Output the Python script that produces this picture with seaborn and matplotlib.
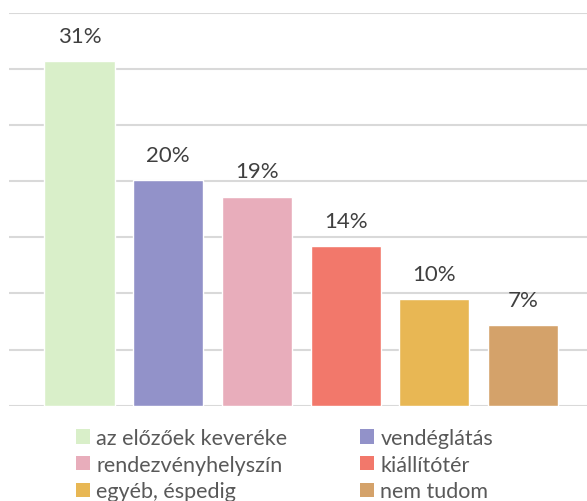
import seaborn as sns
import matplotlib.pyplot as plt
from matplotlib.patches import Patch
import pandas as pd

categories = ["az előzőek keveréke", "vendéglátás", "rendezvényhelyszín",
              "kiállítótér", "egyéb, éspedig", "nem tudom"]
values = [30.7, 20.1, 18.6, 14.2, 9.5, 7.2]
labels = ["31%", "20%", "19%", "14%", "10%", "7%"]
colors = ["#D9EFC9", "#9292C9", "#E8ADBB", "#F2786B", "#E8B754", "#D4A26A"]

sns.set_theme(style="white")
plt.rcParams['font.family'] = ['Lato', 'DejaVu Sans']

df = pd.DataFrame({"cat": categories, "val": values})

fig = plt.figure(figsize=(5.87, 5.02), dpi=100)
ax = fig.add_axes([9 / 587, (502 - 406.7) / 502, 1 - 9 / 587, (406.7 - 13.5) / 502])

sns.barplot(data=df, x="cat", y="val", hue="cat", palette=colors, width=0.79,
            dodge=False, legend=False, ax=ax, saturation=1)

ax.set_ylim(0, 35)
ax.set_yticks(range(0, 36, 5))
ax.set_xlim(-0.795, 5.72)
ax.yaxis.grid(True, color="#D9D9D9", linewidth=1.5)
ax.set_axisbelow(True)
for s in ax.spines.values():
    s.set_visible(False)
ax.axhline(0, color="#D0D0D0", linewidth=2, zorder=0.5)
ax.set_xticks([])
ax.set_yticklabels([])
ax.tick_params(left=False, bottom=False)
ax.set_xlabel("")
ax.set_ylabel("")

for i, (v, lab) in enumerate(zip(values, labels)):
    ax.annotate(lab, (i, v), xytext=(0, 11), textcoords="offset points",
                ha="center", va="bottom", fontsize=16, color="#404040")

handles = [Patch(facecolor=c, edgecolor="none") for c in colors]
order = [0, 2, 4, 1, 3, 5]
fig.legend([handles[i] for i in order], [categories[i] for i in order],
           ncol=2, loc="upper left", bbox_to_anchor=(76 / 587, 1 - 429 / 502),
           frameon=False, fontsize=15.5, labelcolor="#595959",
           handlelength=0.65, handleheight=0.65, handletextpad=0.28,
           columnspacing=3.4, labelspacing=0.31, borderaxespad=0, borderpad=0)

fig.savefig("out.png", dpi=100)
